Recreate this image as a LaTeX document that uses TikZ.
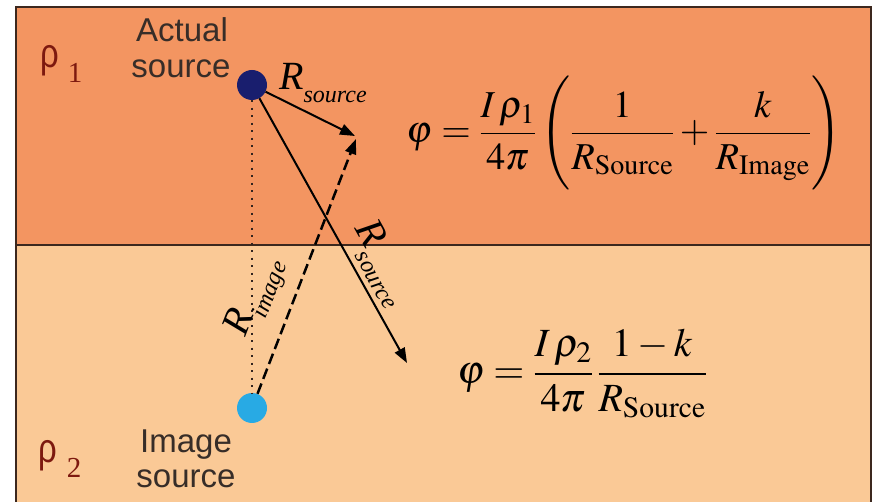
\documentclass[tikz,border=0pt]{standalone}
\usepackage{graphicx}
\usepackage{mathptmx}
\usepackage[no-math]{fontspec}
\setmainfont{Liberation Serif}
\setsansfont{Liberation Sans}
\usetikzlibrary{arrows.meta}
\definecolor{topc}{RGB}{243,149,97}
\definecolor{botc}{RGB}{250,201,150}
\definecolor{framec}{RGB}{60,40,30}
\definecolor{navy}{RGB}{25,30,110}
\definecolor{lblue}{RGB}{40,170,228}
\definecolor{rhoc}{RGB}{125,25,15}
\definecolor{labc}{RGB}{55,45,40}
\definecolor{dotc}{RGB}{50,35,30}
\newcommand{\rlabel}[1]{\fontsize{40}{40}\selectfont\textit{R}\raisebox{-13pt}{\fontsize{24}{24}\selectfont\textit{#1}}}
\newcommand{\bigstrut}{\rule[-48pt]{0pt}{114pt}}
\begin{document}
\begin{tikzpicture}[x=1pt,y=-1pt,
  lbl/.style={font=\sffamily\fontsize{33}{36}\selectfont, text=labc, inner sep=0, anchor=base},
  rho/.style={font=\sffamily\fontsize{41}{44}\selectfont, text=rhoc, inner sep=0, anchor=base west},
  rhosub/.style={font=\rmfamily\fontsize{29}{30}\selectfont, text=rhoc, inner sep=0, anchor=base},
  arr/.style={line width=2pt, -{Triangle[length=15pt,width=11pt]}},
  eqn/.style={inner sep=0, anchor=base, font=\fontsize{38}{48}\selectfont},
  rlab/.style={inner sep=0, anchor=base west},
  srcdot/.style={circle, inner sep=0, minimum size=30pt},
]
\useasboundingbox (0,0) rectangle (873,502);
% regions
\fill[topc] (16,7) rectangle (871,245);
\fill[botc] (16,245) rectangle (871,502);
\draw[framec, line width=1.5pt] (16,502) -- (16,7) -- (871,7) -- (871,502);
\draw[framec, line width=1.5pt] (16,245) -- (871,245);

% sources
\node[srcdot, fill=navy] (src) at (252,85) {};
\node[srcdot, fill=lblue] (img) at (252,408) {};

% tips
\coordinate (t1) at (355,136);
\coordinate (t2) at (356,139);
\coordinate (t3) at (407,363);

% connectors
\draw[dotc, line width=2.2pt, dash pattern=on 2.2pt off 5.3pt] (src) -- (img);
\draw[arr] (src) -- (t1);
\draw[arr] (src) -- (t3);
\draw[arr, line width=2.5pt, dash pattern=on 11pt off 5pt] (img) -- (t2);

% labels
\node[lbl] (act1) at (182,42) {Actual};
\node[lbl] (act2) at (181,78) {source};
\node[lbl] (im1) at (186,453) {Image};
\node[lbl] (im2) at (186,487) {source};

\node[rho] (rho1) at (40,68) {\scalebox{0.8}[1]{ρ}};
\node[rhosub] (rho1s) at (75,83) {1};
\node[rho] (rho2) at (38,463) {\scalebox{0.8}[1]{ρ}};
\node[rhosub] (rho2s) at (74,478) {2};

\node[rlab] (rs1) at (279,90) {\rlabel{source}};
\node[rlab, rotate=-61] (rs2) at (354,228) {\rlabel{source}};
\node[rlab, rotate=69] (ri) at (245,338) {\rlabel{image}};

% equations
\node[eqn] (eq1) at (624,143) {$\displaystyle \varphi=\frac{I\,\rho_1}{4\pi}\left(\bigstrut\frac{1}{R_{\mathrm{Source}}}+\frac{k}{R_{\mathrm{Image}}}\right)$};
\node[eqn, font=\fontsize{40}{48}\selectfont] (eq2) at (582,384) {$\displaystyle \varphi=\frac{I\,\rho_2}{4\pi}\,\frac{1-k}{R_{\mathrm{Source}}}$};
\end{tikzpicture}
\end{document}
